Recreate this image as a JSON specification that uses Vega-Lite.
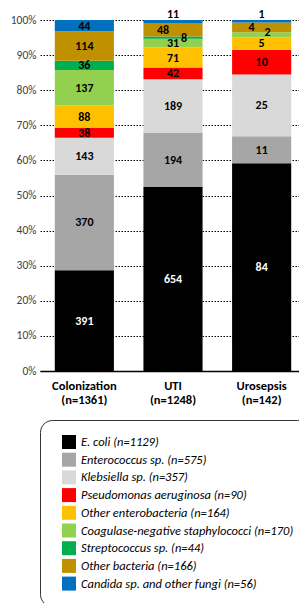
{
  "$schema": "https://vega.github.io/schema/vega-lite/v6.json",
  "width": 266,
  "height": 351,
  "autosize": {"type": "none"},
  "padding": {"left": 40, "top": 20, "right": 0, "bottom": 232},
  "background": "white",
  "config": {
    "font": "Carlito, Lato",
    "view": {"stroke": null},
    "axisY": {
      "title": null, "format": ".0%", "values": [0, 0.1, 0.2, 0.3, 0.4, 0.5, 0.6, 0.7, 0.8, 0.9, 1],
      "domain": false, "ticks": false, "labelPadding": 4,
      "labelFontSize": 11.5, "labelColor": "#404040",
      "grid": true, "gridColor": "#000000", "gridDash": [1.5, 1.5], "gridWidth": 1
    }
  },
  "data": {"values": [
    {"group": "Colonization|(n=1361)", "organism": "E. coli (n=1129)", "rank": 1, "count": 391},
    {"group": "Colonization|(n=1361)", "organism": "Enterococcus sp. (n=575)", "rank": 2, "count": 370},
    {"group": "Colonization|(n=1361)", "organism": "Klebsiella sp. (n=357)", "rank": 3, "count": 143},
    {"group": "Colonization|(n=1361)", "organism": "Pseudomonas aeruginosa (n=90)", "rank": 4, "count": 38},
    {"group": "Colonization|(n=1361)", "organism": "Other enterobacteria (n=164)", "rank": 5, "count": 88},
    {"group": "Colonization|(n=1361)", "organism": "Coagulase-negative staphylococci (n=170)", "rank": 6, "count": 137},
    {"group": "Colonization|(n=1361)", "organism": "Streptococcus sp. (n=44)", "rank": 7, "count": 36},
    {"group": "Colonization|(n=1361)", "organism": "Other bacteria (n=166)", "rank": 8, "count": 114},
    {"group": "Colonization|(n=1361)", "organism": "Candida sp. and other fungi (n=56)", "rank": 9, "count": 44},
    {"group": "UTI|(n=1248)", "organism": "E. coli (n=1129)", "rank": 1, "count": 654},
    {"group": "UTI|(n=1248)", "organism": "Enterococcus sp. (n=575)", "rank": 2, "count": 194},
    {"group": "UTI|(n=1248)", "organism": "Klebsiella sp. (n=357)", "rank": 3, "count": 189},
    {"group": "UTI|(n=1248)", "organism": "Pseudomonas aeruginosa (n=90)", "rank": 4, "count": 42},
    {"group": "UTI|(n=1248)", "organism": "Other enterobacteria (n=164)", "rank": 5, "count": 71},
    {"group": "UTI|(n=1248)", "organism": "Coagulase-negative staphylococci (n=170)", "rank": 6, "count": 31},
    {"group": "UTI|(n=1248)", "organism": "Streptococcus sp. (n=44)", "rank": 7, "count": 8},
    {"group": "UTI|(n=1248)", "organism": "Other bacteria (n=166)", "rank": 8, "count": 48},
    {"group": "UTI|(n=1248)", "organism": "Candida sp. and other fungi (n=56)", "rank": 9, "count": 11},
    {"group": "Urosepsis|(n=142)", "organism": "E. coli (n=1129)", "rank": 1, "count": 84},
    {"group": "Urosepsis|(n=142)", "organism": "Enterococcus sp. (n=575)", "rank": 2, "count": 11},
    {"group": "Urosepsis|(n=142)", "organism": "Klebsiella sp. (n=357)", "rank": 3, "count": 25},
    {"group": "Urosepsis|(n=142)", "organism": "Pseudomonas aeruginosa (n=90)", "rank": 4, "count": 10},
    {"group": "Urosepsis|(n=142)", "organism": "Other enterobacteria (n=164)", "rank": 5, "count": 5},
    {"group": "Urosepsis|(n=142)", "organism": "Coagulase-negative staphylococci (n=170)", "rank": 6, "count": 2},
    {"group": "Urosepsis|(n=142)", "organism": "Streptococcus sp. (n=44)", "rank": 7, "count": 0},
    {"group": "Urosepsis|(n=142)", "organism": "Other bacteria (n=166)", "rank": 8, "count": 4},
    {"group": "Urosepsis|(n=142)", "organism": "Candida sp. and other fungi (n=56)", "rank": 9, "count": 1}
  ]},
  "encoding": {
    "x": {
      "field": "group", "type": "nominal",
      "sort": ["Colonization|(n=1361)", "UTI|(n=1248)", "Urosepsis|(n=142)"],
      "scale": {"paddingInner": 0.333, "paddingOuter": 0.1667},
      "axis": {
        "title": null, "labelAngle": 0, "ticks": false,
        "domainColor": "#000000", "domainWidth": 1.5,
        "labelExpr": "split(datum.label, '|')",
        "labelFontWeight": "bold", "labelFontSize": 12.5, "labelColor": "#000000",
        "labelLineHeight": 14, "labelPadding": 8, "labelBaseline": "top"
      }
    },
    "order": {"field": "rank", "type": "quantitative", "sort": "ascending"},
    "detail": {"field": "organism"}
  },
  "layer": [
    {
      "mark": {"type": "bar"},
      "encoding": {
        "y": {
          "field": "count", "type": "quantitative", "stack": "normalize",
          "scale": {"domain": [0, 1]}
        },
        "color": {
          "field": "organism", "type": "nominal",
          "scale": {
            "domain": ["E. coli (n=1129)", "Enterococcus sp. (n=575)", "Klebsiella sp. (n=357)", "Pseudomonas aeruginosa (n=90)", "Other enterobacteria (n=164)", "Coagulase-negative staphylococci (n=170)", "Streptococcus sp. (n=44)", "Other bacteria (n=166)", "Candida sp. and other fungi (n=56)"],
            "range": ["#000000", "#A6A6A6", "#D9D9D9", "#FF0000", "#FFC000", "#92D050", "#00B050", "#BF9000", "#0070C0"]
          },
          "legend": {
            "orient": "none", "legendX": 0, "legendY": 400,
            "title": null, "symbolType": "square", "symbolSize": 196, "symbolStrokeWidth": 0,
            "labelFontSize": 12.5, "labelFontStyle": "italic", "labelColor": "#000000",
            "labelLimit": 400, "labelOffset": 5, "rowPadding": 3.7,
            "padding": 15, "symbolOffset": 7,
            "strokeColor": "#333333", "cornerRadius": 12
          }
        }
      }
    },
    {
      "mark": {"type": "text", "fontWeight": "bold", "fontSize": 12, "baseline": "middle"},
      "encoding": {
        "y": {"field": "count", "type": "quantitative", "stack": "normalize", "bandPosition": 0.5},
        "text": {
          "field": "count", "type": "quantitative",
          "condition": {"test": "datum.count == 0 || (datum.group != 'Colonization|(n=1361)' && datum.rank >= 7) || (datum.group == 'Urosepsis|(n=142)' && datum.rank == 6)", "value": ""}
        },
        "color": {"condition": {"test": "datum.rank == 1", "value": "#FFFFFF"}, "value": "#000000"}
      }
    },
    {
      "mark": {"type": "text", "fontWeight": "bold", "fontSize": 12, "baseline": "middle", "dy": -6, "color": "#000000"},
      "encoding": {
        "y": {"field": "count", "type": "quantitative", "stack": "normalize"},
        "text": {
          "condition": {"test": "datum.group != 'Colonization|(n=1361)' && datum.rank == 9", "field": "count", "type": "quantitative"},
          "value": ""
        }
      }
    },
    {
      "mark": {"type": "text", "fontWeight": "bold", "fontSize": 12, "baseline": "middle", "dx": -10, "color": "#000000"},
      "encoding": {
        "y": {"field": "count", "type": "quantitative", "stack": "normalize", "bandPosition": 0.5},
        "text": {
          "condition": {"test": "datum.group != 'Colonization|(n=1361)' && datum.rank == 8", "field": "count", "type": "quantitative"},
          "value": ""
        }
      }
    },
    {
      "mark": {"type": "text", "fontWeight": "bold", "fontSize": 12, "baseline": "middle", "dx": 11, "color": "#000000"},
      "encoding": {
        "y": {"field": "count", "type": "quantitative", "stack": "normalize", "bandPosition": 0.5},
        "text": {
          "condition": {"test": "datum.group == 'UTI|(n=1248)' && datum.rank == 7", "field": "count", "type": "quantitative"},
          "value": ""
        }
      }
    },
    {
      "mark": {"type": "text", "fontWeight": "bold", "fontSize": 12, "baseline": "middle", "dx": 6, "dy": -2.5, "color": "#000000"},
      "encoding": {
        "y": {"field": "count", "type": "quantitative", "stack": "normalize", "bandPosition": 0.5},
        "text": {
          "condition": {"test": "datum.group == 'Urosepsis|(n=142)' && datum.rank == 6", "field": "count", "type": "quantitative"},
          "value": ""
        }
      }
    }
  ]
}
